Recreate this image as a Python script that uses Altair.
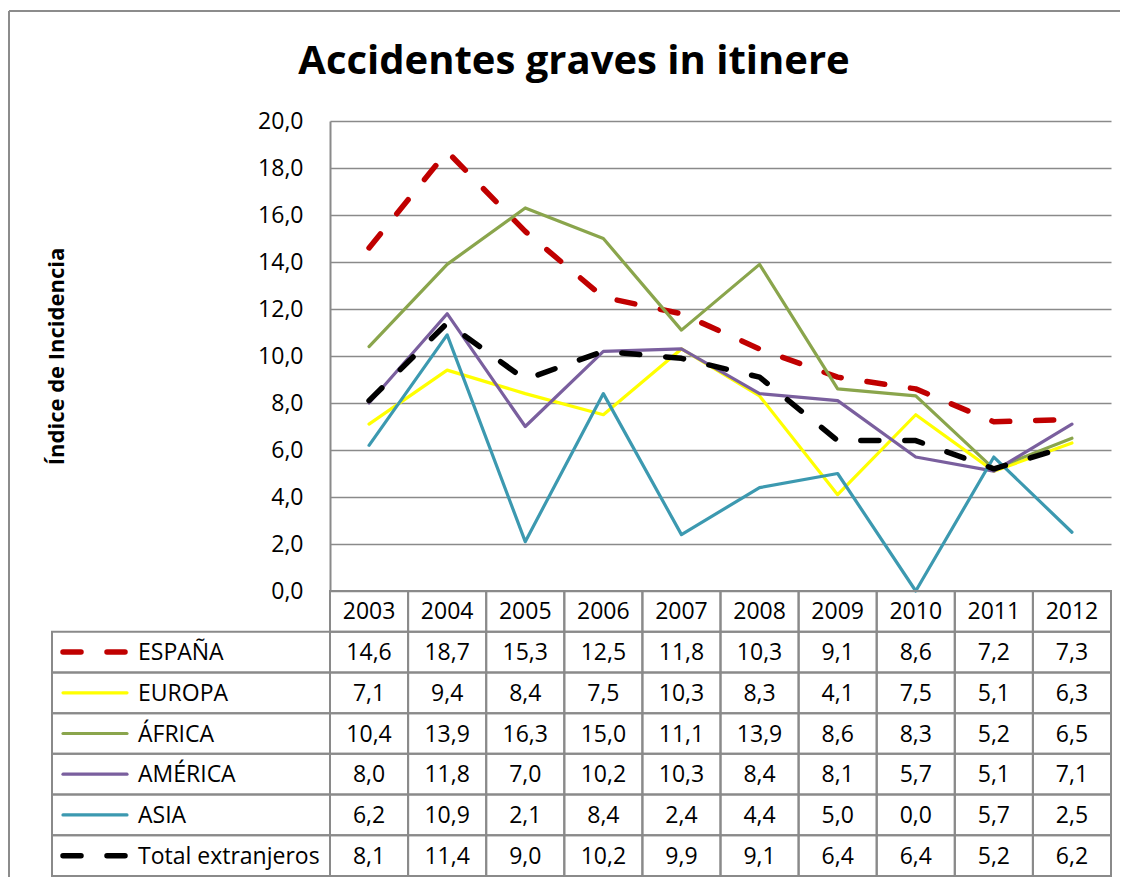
import altair as alt
import pandas as pd

# ---------------- data ----------------
years = [2003, 2004, 2005, 2006, 2007, 2008, 2009, 2010, 2011, 2012]
series_names = ["ESPAÑA", "EUROPA", "ÁFRICA", "AMÉRICA", "ASIA", "Total extranjeros"]
espana = [14.6, 18.7, 15.3, 12.5, 11.8, 10.3, 9.1, 8.6, 7.2, 7.3]
europa = [7.1, 9.4, 8.4, 7.5, 10.3, 8.3, 4.1, 7.5, 5.1, 6.3]
africa = [10.4, 13.9, 16.3, 15.0, 11.1, 13.9, 8.6, 8.3, 5.2, 6.5]
america = [8.0, 11.8, 7.0, 10.2, 10.3, 8.4, 8.1, 5.7, 5.1, 7.1]
asia = [6.2, 10.9, 2.1, 8.4, 2.4, 4.4, 5.0, 0.0, 5.7, 2.5]
total = [8.1, 11.4, 9.0, 10.2, 9.9, 9.1, 6.4, 6.4, 5.2, 6.2]
y_ticks = [0, 2, 4, 6, 8, 10, 12, 14, 16, 18, 20]
title_text = "Accidentes graves in itinere"
y_title = "Índice de Incidencia"

# ---------------- styles ----------------
colors = ["#C00000", "#FFFF00", "#8AA54C", "#7A5F9E", "#3C99B0", "#000000"]
dashed = [True, False, False, False, False, True]
GRID = "#8A8A8A"
FONT = "Open Sans"
TXT = 23

# ---------------- layout (pixels) ----------------
PLOT_W = 781
PLOT_H = 470
TABLE_H = 285
LEG_W_PX = 278
PAD = {"left": 322, "top": 113, "right": 9, "bottom": 1}
COL_W = PLOT_W / len(years)
leg_w = LEG_W_PX / COL_W
n_rows = len(series_names) + 1

values_by_series = [espana, europa, africa, america, asia, total]


def fmt(v):
    return f"{v:.1f}".replace(".", ",")


rows = []
for si, (name, vals) in enumerate(zip(series_names, values_by_series)):
    for ci, (yr, v) in enumerate(zip(years, vals)):
        rows.append(dict(series=name, year=yr, value=v, xc=ci + 0.5,
                         x0=ci, x1=ci + 1, y0=si + 1, y1=si + 2, yc=si + 1.5,
                         label=fmt(v)))
df = pd.DataFrame(rows)

header = pd.DataFrame([dict(label=str(yr), xc=ci + 0.5, x0=ci, x1=ci + 1,
                            y0=0, y1=1, yc=0.5) for ci, yr in enumerate(years)])

legend = pd.DataFrame([dict(series=name, label=name, x0=-leg_w, x1=0,
                            y0=si + 1, y1=si + 2, yc=si + 1.5,
                            xt=-leg_w + 86 / COL_W,
                            lx0=-leg_w + 11 / COL_W, lx1=-leg_w + 75 / COL_W)
                       for si, name in enumerate(series_names)])

cells = pd.concat([df[["x0", "x1", "y0", "y1"]], header[["x0", "x1", "y0", "y1"]],
                   legend[["x0", "x1", "y0", "y1"]]], ignore_index=True)

xs = alt.Scale(domain=[0, len(years)], nice=False, zero=False)
ys_plot = alt.Scale(domain=[0, 20], range=[PLOT_H, 0], nice=False, zero=False)
ys_tab = alt.Scale(domain=[0, n_rows], range=[PLOT_H, PLOT_H + TABLE_H], nice=False, zero=False)

layers = []

# line layers
for i, (name, col, d) in enumerate(zip(series_names, colors, dashed)):
    if i == 0:
        yaxis = alt.Axis(values=y_ticks,
                         labelExpr="replace(format(datum.value, '.1f'), '.', ',')",
                         grid=True, gridColor=GRID, gridWidth=1.6,
                         domainColor=GRID, domainWidth=2, ticks=False, tickSize=0,
                         labelPadding=27, labelFont=FONT, labelFontSize=TXT, labelColor="#000000",
                         title=y_title, titleFont=FONT, titleFontSize=22, titleFontWeight="bold",
                         titleColor="#000000", titleAngle=-90, titleX=-274, titleY=PLOT_H / 2,
                         titleAlign="center", titleBaseline="middle")
    else:
        yaxis = None
    mk = dict(color=col, strokeWidth=5.5 if d else 3.2, strokeCap="round", strokeJoin="round")
    if d:
        mk["strokeDash"] = [18, 26]
    layers.append(
        alt.Chart(df).transform_filter(alt.datum.series == name).mark_line(**mk).encode(
            x=alt.X("xc:Q", scale=xs, axis=None),
            y=alt.Y("value:Q", scale=ys_plot, axis=yaxis),
            order="xc:Q",
        )
    )

# table grid
layers.append(
    alt.Chart(cells).mark_rect(fillOpacity=0, stroke=GRID, strokeWidth=2).encode(
        x=alt.X("x0:Q", scale=xs, axis=None), x2="x1:Q",
        y=alt.Y("y0:Q", scale=ys_tab, axis=None), y2="y1:Q",
    )
)

# header years
layers.append(
    alt.Chart(header).mark_text(font=FONT, fontSize=TXT, color="#000000", baseline="middle", dy=1).encode(
        x=alt.X("xc:Q", scale=xs, axis=None),
        y=alt.Y("yc:Q", scale=ys_tab, axis=None),
        text="label:N",
    )
)
# values
layers.append(
    alt.Chart(df).mark_text(font=FONT, fontSize=TXT, color="#000000", baseline="middle", dy=1).encode(
        x=alt.X("xc:Q", scale=xs, axis=None),
        y=alt.Y("yc:Q", scale=ys_tab, axis=None),
        text="label:N",
    )
)
# legend labels
layers.append(
    alt.Chart(legend).mark_text(font=FONT, fontSize=TXT, color="#000000", baseline="middle",
                                align="left", dy=1).encode(
        x=alt.X("xt:Q", scale=xs, axis=None),
        y=alt.Y("yc:Q", scale=ys_tab, axis=None),
        text="label:N",
    )
)
# legend line symbols
for name, col, d in zip(series_names, colors, dashed):
    mk = dict(color=col, strokeWidth=5.5 if d else 3.2, strokeCap="round")
    if d:
        mk["strokeDash"] = [18, 26]
    layers.append(
        alt.Chart(legend).transform_filter(alt.datum.series == name).mark_rule(**mk).encode(
            x=alt.X("lx0:Q", scale=xs, axis=None), x2="lx1:Q",
            y=alt.Y("yc:Q", scale=ys_tab, axis=None),
        )
    )

# title
layers.append(
    alt.Chart(pd.DataFrame({"t": [title_text]})).mark_text(
        font=FONT, fontSize=40, fontWeight="bold", color="#000000", baseline="alphabetic").encode(
        x=alt.value(244), y=alt.value(-47), text="t:N")
)

# outer chart border: top edge and left edge only
right_edge = PLOT_W + PAD["right"]
bottom_edge = PLOT_H + TABLE_H + PAD["bottom"]
border = pd.DataFrame({"b": [0]})
layers.append(
    alt.Chart(border).mark_rule(stroke="#8C8C8C", strokeWidth=2).encode(
        x=alt.value(-321), x2=alt.value(right_edge + 20), y=alt.value(-110), y2=alt.value(-110))
)
layers.append(
    alt.Chart(border).mark_rule(stroke="#8C8C8C", strokeWidth=2).encode(
        x=alt.value(-321), x2=alt.value(-321), y=alt.value(-110), y2=alt.value(bottom_edge + 20))
)

chart = alt.layer(*layers).resolve_scale(y="independent").properties(
    width=PLOT_W, height=PLOT_H + TABLE_H,
    autosize=alt.AutoSizeParams(type="none"),
    padding=PAD,
).configure_view(stroke=None)

chart.save("out.html", embed_options={"renderer": "svg", "actions": False})
